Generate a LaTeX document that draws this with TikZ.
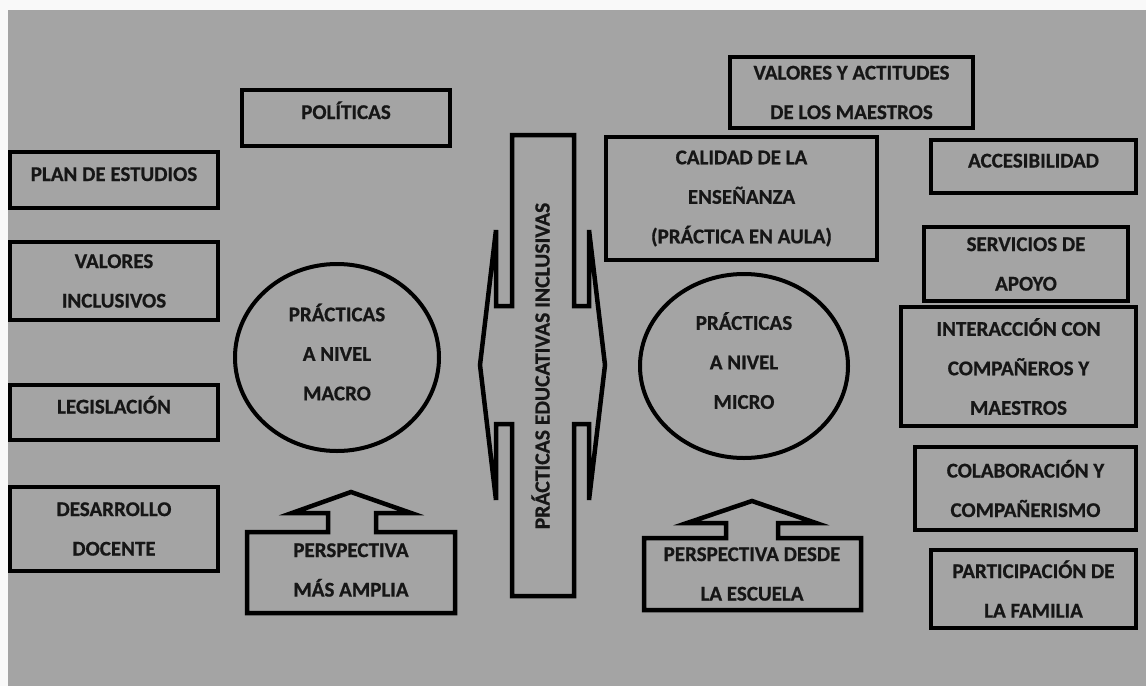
\documentclass[tikz,border=0pt]{standalone}
\usepackage{fontspec}
\setmainfont{Carlito}[BoldFeatures={FakeBold=0.7}]
\usepackage{tikz}
\usetikzlibrary{shapes.geometric}
\definecolor{bggray}{RGB}{164,164,164}
\definecolor{ink}{RGB}{22,22,22}

\begin{document}
\begin{tikzpicture}[
    x=1pt, y=-1pt,
    txt/.style={font=\bfseries\fontsize{21}{39.5}\selectfont, text=ink, align=center},
    box/.style={txt, rectangle, draw=black, line width=4.5pt, fill=bggray, inner sep=0pt},
    onebox/.style={box, text height=14pt, text depth=12pt},
    disc/.style={txt, ellipse, draw=black, line width=4pt, fill=bggray, inner sep=0pt, text depth=11pt},
    outline/.style={draw=black, line width=4.5pt, fill=bggray}
]
\useasboundingbox (0,0) rectangle (1146,686);
\fill[gray!5] (0,0) rectangle (1146,686);
\fill[bggray] (8,10) rectangle (1146,686);

\node[onebox, minimum width=208, minimum height=56] (plan) at (114,180) {PLAN DE ESTUDIOS};
\node[box, minimum width=208, minimum height=78] (valinc) at (114,281) {VALORES\\INCLUSIVOS};
\node[onebox, minimum width=208, minimum height=55] (legis) at (114,412.5) {LEGISLACIÓN};
\node[box, minimum width=208, minimum height=84] (desarrollo) at (114,529) {DESARROLLO\\DOCENTE};
\node[onebox, minimum width=208, minimum height=56] (politicas) at (346,118) {POLÍTICAS};
\node[disc, minimum width=204, minimum height=187] (macro) at (337,357.5) {PRÁCTICAS\\A NIVEL\\MACRO};

\node[box, minimum width=243, minimum height=71] (valact) at (851.5,92.5) {VALORES Y ACTITUDES\\DE LOS MAESTROS};
\node[box, minimum width=271, minimum height=123] (calidad) at (741.5,198.5) {CALIDAD DE LA\\ENSEÑANZA\\(PRÁCTICA EN AULA)};
\node[onebox, minimum width=205, minimum height=53] (acces) at (1033.5,166.5) {ACCESIBILIDAD};
\node[box, minimum width=204, minimum height=74] (servicios) at (1026,264) {SERVICIOS DE\\APOYO};
\node[box, minimum width=235, minimum height=119] (interac) at (1018.5,366.5) {INTERACCIÓN CON\\COMPAÑEROS Y\\MAESTROS};
\node[box, minimum width=221, minimum height=83] (colab) at (1025.5,488.5) {COLABORACIÓN Y\\COMPAÑERISMO};
\node[box, minimum width=205, minimum height=78] (familia) at (1033.5,589) {PARTICIPACIÓN DE\\LA FAMILIA};
\node[disc, minimum width=208, minimum height=184] (micro) at (744,366) {PRÁCTICAS\\A NIVEL\\MICRO};

\draw[outline] (512,135) -- (574,135) -- (574,306) -- (589,306) -- (589,230) -- (605,365) -- (589,500) -- (589,424) -- (574,424) -- (574,596) -- (512,596) -- (512,424) -- (496,424) -- (496,500) -- (480,365) -- (496,230) -- (496,306) -- (512,306) -- cycle;
\node[txt, font=\bfseries\fontsize{21.6}{26}\selectfont, rotate=90, text height=14pt, text depth=0pt] (inclusivas) at (542.5,366) {PRÁCTICAS EDUCATIVAS INCLUSIVAS};

\draw[outline] (247,613) -- (247,532) -- (328,532) -- (328,513) -- (292,513) -- (351,492) -- (411,513) -- (376,513) -- (376,532) -- (455,532) -- (455,613) -- cycle;
\node[txt] (amplia) at (351,570) {PERSPECTIVA\\MÁS AMPLIA};

\draw[outline] (644,610) -- (644,538) -- (726,538) -- (726,523) -- (687,523) -- (752,501) -- (816,523) -- (778,523) -- (778,538) -- (861,538) -- (861,610) -- cycle;
\node[txt] (escuela) at (752,574) {PERSPECTIVA DESDE\\LA ESCUELA};
\end{tikzpicture}
\end{document}
